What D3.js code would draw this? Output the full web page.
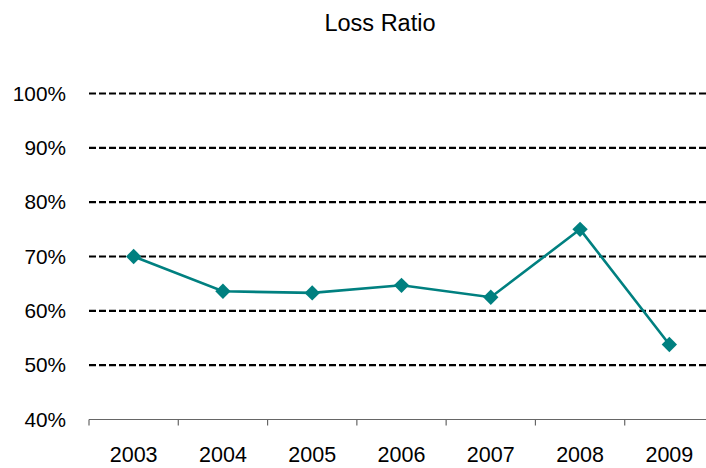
<!DOCTYPE html>
<html>
<head>
<meta charset="utf-8">
<script src="https://cdn.jsdelivr.net/npm/d3@7"></script>
<style>
  body { margin: 0; background: #fff; }
  svg { display: block; font-family: "Liberation Sans", Arial, sans-serif; }
</style>
</head>
<body>
<svg id="chart" width="706" height="468"></svg>
<script>
var years = ["2003", "2004", "2005", "2006", "2007", "2008", "2009"];
var lossRatio = [70.0, 63.6, 63.3, 64.7, 62.5, 75.0, 53.8];
var yTicks = [40, 50, 60, 70, 80, 90, 100];

var svg = d3.select("#chart"),
	plotLeft = 89,
	plotRight = 714,
	plotTop = 93.5,
	plotBottom = 419.5;

var x = d3.scaleBand()
	.domain(years)
	.range([plotLeft, plotRight]);

var y = d3.scaleLinear()
	.domain([40, 100])
	.range([plotBottom, plotTop]);

// title
svg.append("text")
	.attr("x", 380)
	.attr("y", 31)
	.attr("text-anchor", "middle")
	.attr("font-size", 23.5)
	.text("Loss Ratio");

// dashed gridlines
svg.append("g")
	.selectAll("line")
	.data(yTicks.slice(1))
	.enter().append("line")
		.attr("x1", plotLeft)
		.attr("x2", plotRight)
		.attr("y1", function(d) { return y(d); })
		.attr("y2", function(d) { return y(d); })
		.attr("stroke", "#000")
		.attr("stroke-width", 2.2)
		.attr("stroke-dasharray", "7,3");

// y labels
svg.append("g")
	.selectAll("text")
	.data(yTicks)
	.enter().append("text")
		.attr("x", 66)
		.attr("y", function(d) { return y(d); })
		.attr("dy", "0.35em")
		.attr("text-anchor", "end")
		.attr("font-size", 20.8)
		.text(function(d) { return d + "%"; });

// x axis labels
var xAxis = svg.append("g")
	.attr("transform", "translate(0," + plotBottom + ")")
	.call(d3.axisBottom(x).tickSize(0).tickPadding(27));
xAxis.select(".domain").remove();
xAxis.selectAll("text")
	.attr("font-size", 21.5)
	.attr("font-family", "Liberation Sans, Arial, sans-serif")
	.attr("fill", "#000");

svg.append("line")
	.attr("x1", plotLeft)
	.attr("x2", plotRight)
	.attr("y1", plotBottom)
	.attr("y2", plotBottom)
	.attr("stroke", "#666")
	.attr("stroke-width", 1.2);

svg.append("g")
	.selectAll("line")
	.data(years)
	.enter().append("line")
		.attr("x1", function(d) { return x(d); })
		.attr("x2", function(d) { return x(d); })
		.attr("y1", plotBottom)
		.attr("y2", plotBottom + 6)
		.attr("stroke", "#666")
		.attr("stroke-width", 1.2);

// series line
var pts = years.map(function(d, i) { return [x(d) + x.bandwidth() / 2, y(lossRatio[i])]; });

svg.append("path")
	.datum(pts)
	.attr("fill", "none")
	.attr("stroke", "#008080")
	.attr("stroke-width", 2.6)
	.attr("d", d3.line());

svg.append("g")
	.selectAll("path")
	.data(pts)
	.enter().append("path")
		.attr("transform", function(d) { return "translate(" + d[0] + "," + d[1] + ")"; })
		.attr("d", d3.symbol().type(d3.symbolDiamond2).size(150))
		.attr("fill", "#008080");
</script>
</body>
</html>
